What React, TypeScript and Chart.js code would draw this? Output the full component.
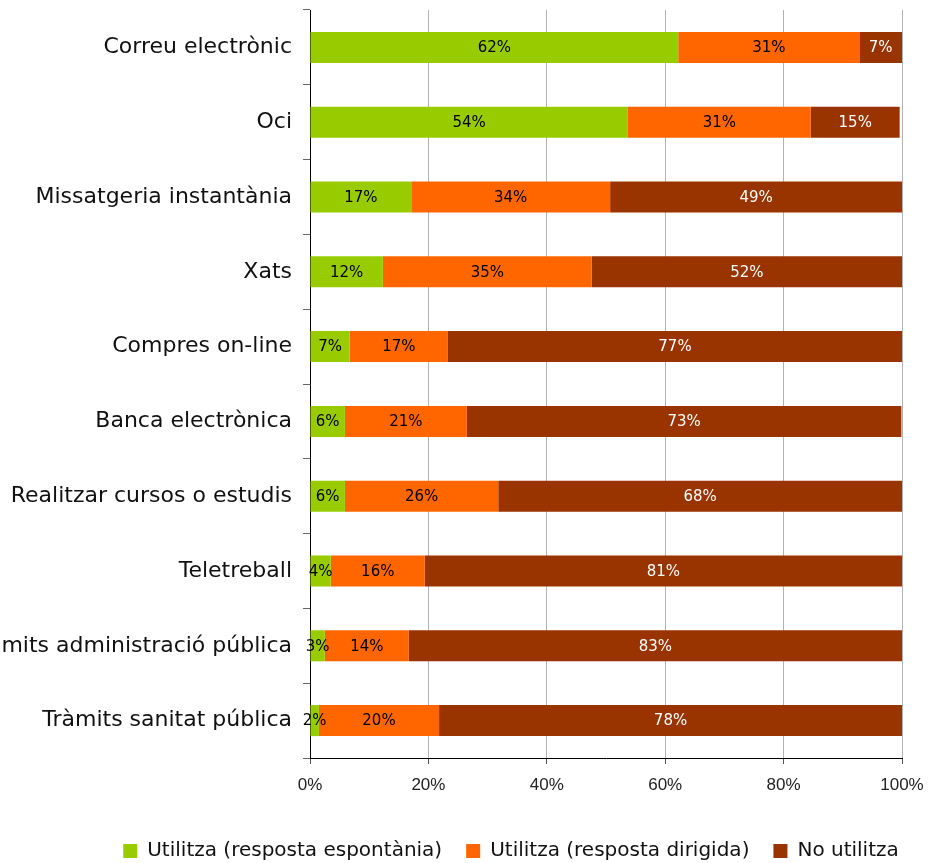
import React, { useEffect, useRef } from "react";
import { Chart, registerables } from "chart.js";

Chart.register(...registerables);

const categories = [
  "Correu electrònic",
  "Oci",
  "Missatgeria instantània",
  "Xats",
  "Compres on-line",
  "Banca electrònica",
  "Realitzar cursos o estudis",
  "Teletreball",
  "Tràmits administració pública",
  "Tràmits sanitat pública",
];

const seriesNames = [
  "Utilitza (resposta espontània)",
  "Utilitza (resposta dirigida)",
  "No utilitza",
];

const espontania = [62.2, 53.7, 17.1, 12.3, 6.7, 5.9, 5.9, 3.5, 2.5, 1.5];
const dirigida = [30.6, 30.9, 33.6, 35.3, 16.6, 20.6, 25.9, 15.9, 14.2, 20.3];
const noUtilitza = [7.2, 15.0, 49.3, 52.4, 76.7, 73.4, 68.2, 80.6, 83.3, 78.2];

const colors = ["#99CC00", "#FF6600", "#993300"];
const labelColors = ["#000000", "#000000", "#FFFFFF"];

const xTicks = [0, 20, 40, 60, 80, 100];

const dataLabelPlugin = {
  id: "dataLabels",
  afterDatasetsDraw(chart: any) {
    const ctx = chart.ctx;
    ctx.save();
    ctx.font = "15px 'DejaVu Sans'";
    ctx.textAlign = "center";
    ctx.textBaseline = "middle";
    chart.data.datasets.forEach((ds: any, di: number) => {
      const meta = chart.getDatasetMeta(di);
      meta.data.forEach((el: any, i: number) => {
        const v = ds.data[i];
        const cx = (el.x + el.base) / 2;
        ctx.fillStyle = labelColors[di];
        ctx.fillText(Math.round(v) + "%", cx, el.y + 1);
      });
    });
    ctx.restore();
  },
};

const legendShiftPlugin = {
  id: "legendShift",
  beforeDraw(chart: any) {
    const lg = chart.legend;
    if (lg && !lg._shifted) {
      lg.left += 60;
      lg.right += 60;
      lg._shifted = true;
    }
  },
};

export default function App() {
  const ref = useRef<HTMLCanvasElement>(null);
  useEffect(() => {
    if (!ref.current) return;
    const chart = new Chart(ref.current, {
      type: "bar",
      data: {
        labels: categories,
        datasets: [espontania, dirigida, noUtilitza].map((d, i) => ({
          label: seriesNames[i],
          data: d,
          backgroundColor: colors[i],
          borderWidth: 0,
          categoryPercentage: 1,
          barPercentage: 0.415,
        })),
      },
      options: {
        indexAxis: "y",
        animation: false,
        responsive: true,
        maintainAspectRatio: false,
        layout: { padding: { top: 10, right: 27, left: 0, bottom: 0 } },
        scales: {
          x: {
            stacked: true,
            min: 0,
            max: 100,
            afterBuildTicks: (s: any) => {
              s.ticks = xTicks.map((v) => ({ value: v }));
            },
            afterFit: (s: any) => {
              s.height = 59;
              s.paddingLeft = 0;
              s.paddingRight = 0;
            },
            ticks: {
              callback: (v: any) => v + "%",
              font: { family: "'Liberation Sans'", size: 17 },
              color: "#222",
              padding: 11,
            },
            grid: {
              color: "#b3b3b3",
              lineWidth: 1,
              tickLength: 6,
              tickColor: "#555",
            },
            border: { color: "#000", width: 1 },
          },
          y: {
            stacked: true,
            afterFit: (s: any) => {
              s.width = 310;
              s.paddingTop = 0;
              s.paddingBottom = 0;
            },
            ticks: {
              font: { family: "'DejaVu Sans'", size: 22 },
              color: "#111",
              padding: 11,
            },
            grid: {
              offset: true,
              drawOnChartArea: false,
              tickLength: 7,
              tickColor: "#666",
            },
            border: { color: "#000", width: 1 },
          },
        },
        plugins: {
          legend: {
            position: "bottom",
            labels: {
              font: { family: "'DejaVu Sans'", size: 20 },
              color: "#111",
              boxWidth: 14,
              boxHeight: 14,
              padding: 24,
            },
          },
          tooltip: { enabled: false },
        },
      },
      plugins: [dataLabelPlugin, legendShiftPlugin],
    });
    return () => chart.destroy();
  }, []);
  return (
    <div style={{ position: "absolute", left: 0, top: 0, width: 929, height: 863, overflow: "hidden", background: "#fff" }}>
      <div style={{ position: "relative", width: 929, height: 871 }}>
        <canvas ref={ref} />
      </div>
    </div>
  );
}
